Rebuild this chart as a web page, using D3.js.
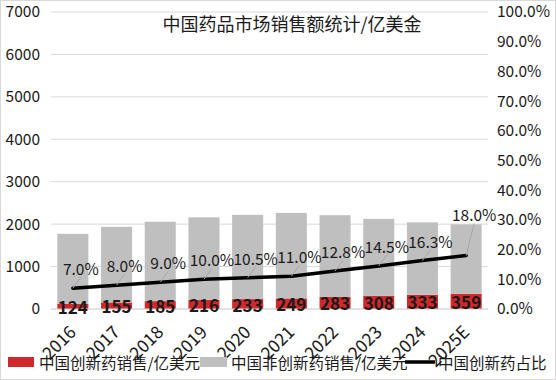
<!DOCTYPE html>
<html><head><meta charset="utf-8">
<script src="https://cdn.jsdelivr.net/npm/d3@7"></script>
<style>
html,body{margin:0;padding:0;background:#fff;}
svg{display:block;}
text{font-family:"Noto Sans CJK SC","Noto Sans",sans-serif;fill:#1a1a1a;}
</style></head>
<body>
<svg id="c" width="556" height="380"></svg>
<script>
const years = ["2016","2017","2018","2019","2020","2021","2022","2023","2024","2025E"];
const innovative = [124,155,185,216,233,249,283,308,333,359];
const nonInnovative = [1647,1782,1871,1944,1986,2015,1928,1816,1710,1635];
const share = [0.070,0.080,0.090,0.100,0.105,0.110,0.128,0.145,0.163,0.180];
const leftTicks = [0,1000,2000,3000,4000,5000,6000,7000];
const rightTicks = [0,0.1,0.2,0.3,0.4,0.5,0.6,0.7,0.8,0.9,1.0];
const title = "中国药品市场销售额统计/亿美金";
const seriesNames = ["中国创新药销售/亿美元","中国非创新药销售/亿美元","中国创新药占比"];

const svg = d3.select("#c");
const W=556,H=380;
const m = {l:51, r:68, t:12, b:71};
const iw = W-m.l-m.r, ih = H-m.t-m.b;

svg.append("rect").attr("x",0.5).attr("y",0.5).attr("width",W-1).attr("height",H-1)
  .attr("fill","#fff").attr("stroke","#d9d9d9");

const g = svg.append("g").attr("transform",`translate(${m.l},${m.t})`);
const x = d3.scaleBand().domain(years).range([0,iw]).paddingInner(0.29).paddingOuter(0.145);
const y = d3.scaleLinear().domain([0,7000]).range([ih,0]);
const y2 = d3.scaleLinear().domain([0,1]).range([ih,0]);

// gridlines
g.append("g").selectAll("line").data(leftTicks).join("line")
  .attr("x1",0).attr("x2",iw).attr("y1",d=>y(d)).attr("y2",d=>y(d))
  .attr("stroke","#d9d9d9").attr("stroke-width",1);

// left axis
const la = g.append("g").call(d3.axisLeft(y).tickValues(leftTicks).tickSize(0).tickPadding(11).tickFormat(d3.format("d")));
la.select(".domain").remove();
la.selectAll("text").attr("font-size",15.5).attr("fill","#1a1a1a").style("font-family","'Noto Sans CJK SC'");

// right axis
const ra = g.append("g").attr("transform",`translate(${iw},0)`)
  .call(d3.axisRight(y2).tickValues(rightTicks).tickSize(0).tickPadding(9).tickFormat(d3.format(".1%")));
ra.select(".domain").remove();
ra.selectAll("text").attr("font-size",15.5).attr("fill","#1a1a1a").style("font-family","'Noto Sans CJK SC'");

// stacked bars
const stackData = years.map((yr,i)=>({year:yr, inn:innovative[i], non:nonInnovative[i]}));
const stacked = d3.stack().keys(["inn","non"])(stackData);
const colors = {inn:"#d0282b", non:"#bfbfbf"};
g.append("g").selectAll("g").data(stacked).join("g").attr("fill",d=>colors[d.key])
  .selectAll("rect").data(d=>d).join("rect")
  .attr("x",d=>x(d.data.year)).attr("width",x.bandwidth())
  .attr("y",d=>y(d[1])).attr("height",d=>y(d[0])-y(d[1]));

// bottom axis line
g.append("line").attr("x1",0).attr("x2",iw).attr("y1",ih).attr("y2",ih).attr("stroke","#d9d9d9");

// innovative value labels
g.append("g").selectAll("text").data(stackData).join("text")
  .attr("x",d=>x(d.year)+x.bandwidth()/2)
  .attr("y",d=>(y(0)+y(d.inn))/2)
  .attr("text-anchor","middle").attr("dominant-baseline","central")
  .attr("font-size",17).attr("font-weight",700).attr("fill","#000")
  .text(d=>d.inn);

// share line
const cx = d=>x(d)+x.bandwidth()/2;
const pts = years.map((yr,i)=>[cx(yr), y2(share[i])]);
g.append("path").datum(pts).attr("d",d3.line()).attr("fill","none")
  .attr("stroke","#000").attr("stroke-width",3.5).attr("stroke-linejoin","round").attr("stroke-linecap","round");

// share labels with leader lines
const labels = years.map((yr,i)=>{
  const px = cx(yr), py = y2(share[i]);
  const last = i===years.length-1;
  const ly = last ? y(innovative[i]+nonInnovative[i]) - 10 : py - 20;
  return {px,py,lx:px+8,ly,t:d3.format(".1%")(share[i])};
});
g.append("g").selectAll("line").data(labels).join("line")
  .attr("x1",d=>d.px).attr("y1",d=>d.py).attr("x2",d=>d.lx).attr("y2",d=>d.ly+9)
  .attr("stroke","#a6a6a6").attr("stroke-width",1);
g.append("g").selectAll("text").data(labels).join("text")
  .attr("x",d=>d.lx).attr("y",d=>d.ly).attr("text-anchor","middle").attr("dominant-baseline","central")
  .attr("font-size",15.5).attr("fill","#1a1a1a").text(d=>d.t);

// x labels rotated
g.append("g").selectAll("text").data(years).join("text")
  .attr("transform",d=>`translate(${cx(d)-1},${ih+19}) rotate(-45)`)
  .attr("text-anchor","end").attr("dominant-baseline","central")
  .attr("font-size",17.5).attr("fill","#1a1a1a").text(d=>d);

// title
svg.append("text").attr("x",292).attr("y",23).attr("text-anchor","middle").attr("dominant-baseline","central")
  .attr("font-size",18).attr("fill","#1a1a1a").text(title);

// legend
const lg = svg.append("g").attr("transform","translate(0,362)");
lg.append("rect").attr("x",8).attr("y",-5).attr("width",26).attr("height",10).attr("fill",colors.inn);
lg.append("text").attr("x",39).attr("y",0).attr("dominant-baseline","central").attr("font-size",15.5).text(seriesNames[0]);
lg.append("rect").attr("x",200).attr("y",-5).attr("width",27).attr("height",10).attr("fill",colors.non);
lg.append("text").attr("x",231).attr("y",0).attr("dominant-baseline","central").attr("font-size",15.5).text(seriesNames[1]);
lg.append("line").attr("x1",405).attr("x2",435).attr("y1",0).attr("y2",0).attr("stroke","#000").attr("stroke-width",3.5);
lg.append("text").attr("x",438).attr("y",0).attr("dominant-baseline","central").attr("font-size",15.5).text(seriesNames[2]);
</script>
</body></html>
